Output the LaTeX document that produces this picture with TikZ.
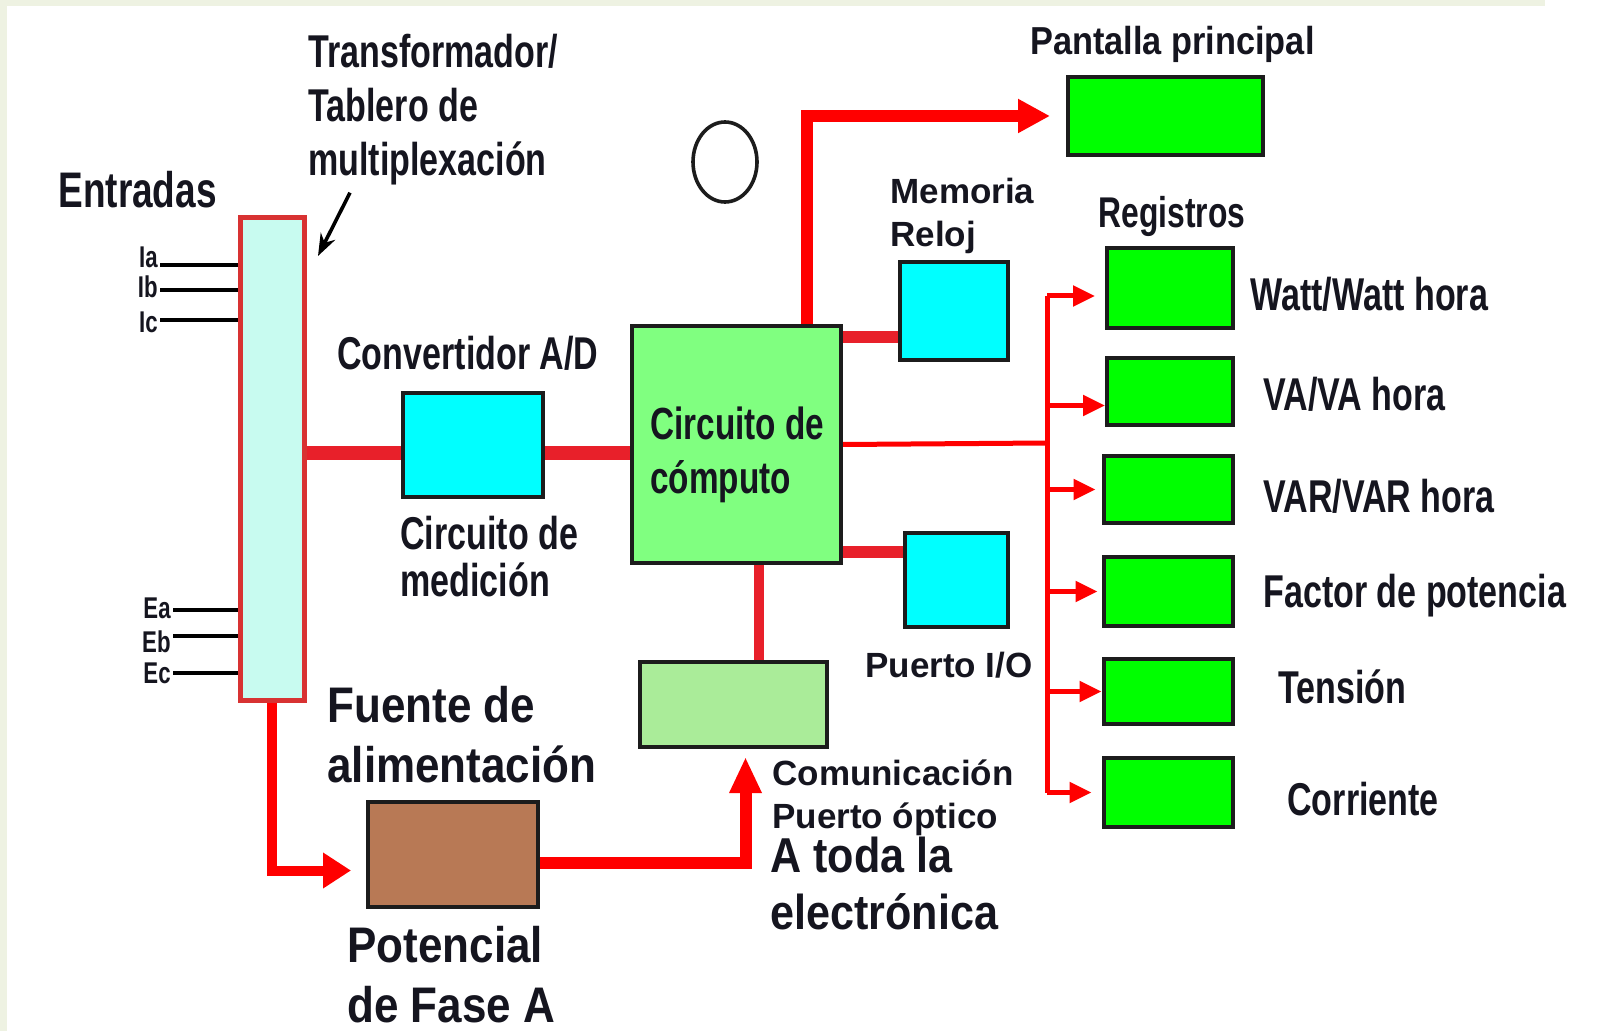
\documentclass[tikz,border=0pt]{standalone}
\usepackage{fontspec}
\setmainfont{Liberation Sans}
\newfontfamily\condfont[FakeStretch=0.74]{Liberation Sans}
\newfontfamily\semifont[FakeStretch=0.88]{Liberation Sans}
\usetikzlibrary{arrows.meta,positioning}

\definecolor{wirered}{HTML}{FF0000}
\definecolor{busred}{HTML}{E8202A}
\definecolor{muxred}{HTML}{D83232}
\definecolor{muxfill}{HTML}{C8FBF0}
\definecolor{adcyan}{HTML}{00FFFF}
\definecolor{compgreen}{HTML}{80FF80}
\definecolor{reggreen}{HTML}{00FF00}
\definecolor{commgreen}{HTML}{AAEC99}
\definecolor{srcbrown}{HTML}{B87955}
\definecolor{edgegray}{HTML}{1C1C1C}
\definecolor{txtcol}{HTML}{15151F}
\definecolor{framecol}{HTML}{EEF2E2}

\newcommand{\condtxt}[2]{\condfont\bfseries\fontsize{#1}{#2}\selectfont}
\newcommand{\semitxt}[2]{\semifont\bfseries\fontsize{#1}{#2}\selectfont}
\newcommand{\boldtxt}[2]{\bfseries\fontsize{#1}{#2}\selectfont}

\begin{document}
\begin{tikzpicture}[x=0.5pt,y=-0.5pt,
  blk/.style={draw=edgegray,line width=2pt,inner sep=0pt},
  lbl/.style={inner sep=0pt,text=txtcol,align=left,anchor=north west},
  fatwire/.style={draw=busred,line width=6pt},
  redwire/.style={draw=wirered,line width=5pt},
  thinwire/.style={draw=wirered,line width=2.5pt},
  bigtip/.style={-{Triangle[length=16pt,width=16pt]}},
  regtip/.style={-{Triangle[length=11pt,width=10pt]}},
  inwire/.style={draw=black,line width=2.2pt},
  inlbl/.style={inner sep=0pt,text=txtcol,font=\condtxt{15}{15}}]

\useasboundingbox (0,0) rectangle (1610,1031);
\fill[white] (0,0) rectangle (1610,1031);
\fill[framecol] (0,0) rectangle (7,1031);
\fill[framecol] (0,0) rectangle (1545,6);

\node[blk,draw=muxred,line width=2.5pt,fill=muxfill,minimum width=32pt,minimum height=241pt] (mux) at (272,459) {};
\node[blk,fill=adcyan,minimum width=70pt,minimum height=52pt] (ad) at (473,445) {};
\node[blk,fill=compgreen,minimum width=104.5pt,minimum height=118.5pt] (comp) at (736.5,444.5) {};
\node[blk,fill=adcyan,minimum width=54pt,minimum height=49pt] (mem) at (954,311) {};
\node[blk,fill=adcyan,minimum width=51.5pt,minimum height=47pt] (io) at (956.5,580) {};
\node[blk,fill=commgreen,minimum width=93.5pt,minimum height=42.5pt] (comm) at (733.5,704.5) {};
\node[blk,fill=srcbrown,minimum width=85pt,minimum height=52.5pt] (fuente) at (453,854.5) {};
\node[blk,fill=reggreen,minimum width=97.5pt,minimum height=39pt] (pant) at (1165.5,116) {};

\node[blk,fill=reggreen,minimum width=63pt,minimum height=40pt] (reg1) at (1170,288) {};
\node[blk,fill=reggreen,minimum width=63pt,minimum height=33.5pt] (reg2) at (1170,391.5) {};
\node[blk,fill=reggreen,minimum width=64.5pt,minimum height=33.5pt] (reg3) at (1168,489.5) {};
\node[blk,fill=reggreen,minimum width=64.5pt,minimum height=34.5pt] (reg4) at (1168,591.5) {};
\node[blk,fill=reggreen,minimum width=64.5pt,minimum height=32.5pt] (reg5) at (1168,691.5) {};
\node[blk,fill=reggreen,minimum width=64.5pt,minimum height=34.5pt] (reg6) at (1168,792.5) {};

\draw[draw=edgegray,line width=1.8pt] (725,162) ellipse [x radius=16pt,y radius=20pt];

\node[lbl,font=\condtxt{23}{27}] (trafo) at (308,34) {Transformador/\\Tablero de\\multiplexación};
\node[lbl,font=\condtxt{25}{25}] (entradas) at (58,171) {Entradas};
\node[lbl,font=\condtxt{23}{23}] (conv) at (337,336) {Convertidor A/D};
\node[lbl,font=\condtxt{23}{23.5}] (med) at (400,516) {Circuito de\\medición};
\node[lbl,font=\condtxt{22.5}{27}] (comptxt) at (650,406) {Circuito de\\cómputo};
\node[lbl,font=\semitxt{19.5}{19.5}] (pantlbl) at (1030,26) {Pantalla principal};
\node[lbl,font=\boldtxt{17.5}{21.5}] (memlbl) at (890,178) {Memoria\\Reloj};
\node[lbl,font=\condtxt{21.5}{21.5}] (reglbl) at (1098,196) {Registros};
\node[lbl,font=\boldtxt{17.5}{17.5}] (iolbl) at (865,652) {Puerto I/O};
\node[lbl,font=\boldtxt{17.5}{21.5}] (commlbl) at (772,759) {Comunicación\\Puerto óptico};
\node[lbl,font=\semitxt{24.5}{28.5}] (todalbl) at (770,837) {A toda la\\electrónica};
\node[lbl,font=\semitxt{25}{30}] (fuentelbl) at (327,686) {Fuente de\\alimentación};
\node[lbl,font=\semitxt{25}{30}] (potlbl) at (347,926) {Potencial\\de Fase A};

\node[lbl,font=\condtxt{23}{23}] (watt) at (1250,277) {Watt/Watt hora};
\node[lbl,font=\condtxt{23}{23}] (va) at (1263,377) {VA/VA hora};
\node[lbl,font=\condtxt{23}{23}] (var) at (1263,479) {VAR/VAR hora};
\node[lbl,font=\condtxt{23}{23}] (fp) at (1263,574) {Factor de potencia};
\node[lbl,font=\condtxt{23}{23}] (tension) at (1278,669) {Tensión};
\node[lbl,font=\condtxt{23}{23}] (corriente) at (1287,782) {Corriente};

\coordinate (ia) at (160,265);
\coordinate (ib) at (160,290);
\coordinate (ic) at (160,320);
\coordinate (ea) at (173,610);
\coordinate (eb) at (173,636);
\coordinate (ec) at (173,673);
\node[inlbl,left=1pt of ia,yshift=4pt] (lia) {Ia};
\node[inlbl,left=1pt of ib,yshift=1.5pt] (lib) {Ib};
\node[inlbl,left=1pt of ic,yshift=-1pt] (lic) {Ic};
\node[inlbl,left=1pt of ea,yshift=1pt] (lea) {Ea};
\node[inlbl,left=1pt of eb,yshift=-3pt] (leb) {Eb};
\node[inlbl,left=1pt of ec] (lec) {Ec};
\draw[inwire] (ia) -- (ia -| mux.west);
\draw[inwire] (ib) -- (ib -| mux.west);
\draw[inwire] (ic) -- (ic -| mux.west);
\draw[inwire] (ea) -- (ea -| mux.west);
\draw[inwire] (eb) -- (eb -| mux.west);
\draw[inwire] (ec) -- (ec -| mux.west);

\coordinate (ptrtip) at (318,256);
\draw[line width=1.8pt,-{Stealth[length=11pt,width=8pt]}] ([shift={(21pt,-3.5pt)}]trafo.south west) -- (ptrtip);

\coordinate (adin) at ([yshift=-4pt]ad.west);
\coordinate (adout) at ([yshift=-4pt]ad.east);
\coordinate (memin) at ([yshift=-13pt]mem.west);
\coordinate (ioin) at ([yshift=14pt]io.west);
\coordinate (commin) at ([xshift=12.5pt]comm.north);
\coordinate (pantup) at ([xshift=35pt]comp.north);
\draw[fatwire,line width=7pt] (adin -| mux.east) -- (adin);
\draw[fatwire,line width=7pt] (adout) -- (adout -| comp.west);
\draw[fatwire] (memin -| comp.east) -- (memin);
\draw[fatwire] (ioin -| comp.east) -- (ioin);
\draw[fatwire,line width=5pt] (commin |- comp.south) -- (commin);
\draw[redwire,line width=6pt,bigtip,shorten >=8pt] (pantup) |- (pant.west);

\draw[redwire,-{Triangle[length=14pt,width=17pt]},shorten >=7.5pt] (mux.south) |- ([yshift=-8pt]fuente.west);
\draw[redwire,line width=6pt,-{Triangle[length=18pt,width=15pt]},shorten >=4pt] ([yshift=-4pt]fuente.east) -| ([xshift=6pt]comm.south);

\coordinate (bus) at (1047,443);
\coordinate (tap1) at ([yshift=-4pt]reg1.west);
\coordinate (tap2) at ([yshift=-7pt]reg2.west);
\draw[thinwire] (comp.east) -- (bus);
\draw[thinwire] (tap1 -| bus) -- (reg6.west -| bus);
\draw[thinwire,regtip,shorten >=5pt] (tap1 -| bus) -- (tap1);
\draw[thinwire,regtip] (tap2 -| bus) -- (tap2);
\draw[thinwire,regtip,shorten >=3pt] (reg3.west -| bus) -- (reg3.west);
\draw[thinwire,regtip,shorten >=2pt] (reg4.west -| bus) -- (reg4.west);
\draw[thinwire,regtip] (reg5.west -| bus) -- (reg5.west);
\draw[thinwire,regtip,shorten >=5pt] (reg6.west -| bus) -- (reg6.west);
\end{tikzpicture}
\end{document}
